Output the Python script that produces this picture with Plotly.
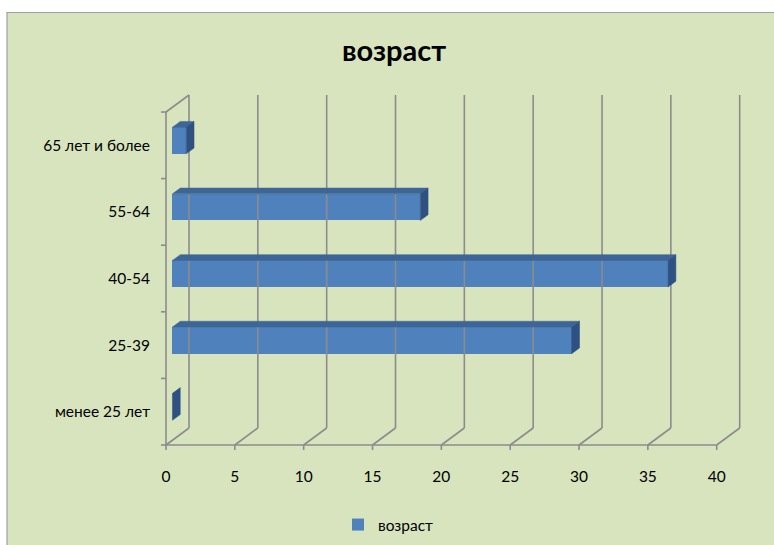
import plotly.graph_objects as go

# ---------------- data ----------------
categories = ["менее 25 лет", "25-39", "40-54", "55-64", "65 лет и более"]
values = [0, 29, 36, 18, 1]
series_name = "возраст"
x_ticks = [0, 5, 10, 15, 20, 25, 30, 35, 40]
title_text = "возраст"

# ---------------- style / layout constants ----------------
W, H = 774, 545
ML, MR, MT, MB = 151, 14, 85, 90
PX_X0, PX_X40 = 166.0, 716.7      # pixel of x=0 and x=40 on front axis
PX_YBOT, PX_YTOP = 445.0, 112.0   # pixel of front floor and top of left wall
SX = (PX_X40 - PX_X0) / 40.0
SY = (PX_YBOT - PX_YTOP) / 5.0
DX = 23.0 / SX                     # depth offset (data units)
DY = 17.0 / SY
T0, T1 = 0.28, 0.62                # bar depth extent (fraction of wall depth)
HALF = 0.2                         # half bar height in category units
GRID = "#8C8C8C"
BG = "#D7E4BD"
FRONT = "#4F81BD"
TOP = "#3D6697"
SIDE = "#2E5182"
FONT = "Lato"

pw = W - ML - MR
ph = H - MT - MB
x_range = [(ML - PX_X0) / SX, (ML + pw - PX_X0) / SX]
y_bot_val = -0.5 - ((H - MB) - PX_YBOT) / SY
y_range = [y_bot_val, y_bot_val + ph / SY]

xmax = x_ticks[-1]
n = len(categories)
ylo, yhi = -0.5, n - 0.5

fig = go.Figure()

def seg_trace(xs, ys, width=1.6):
    return go.Scatter(x=xs, y=ys, mode="lines", line=dict(color=GRID, width=width),
                      hoverinfo="skip", showlegend=False)

# back wall gridlines
gx, gy = [], []
for t in x_ticks:
    gx += [t + DX, t + DX, None]
    gy += [ylo + DY, yhi + DY, None]
fig.add_trace(seg_trace(gx, gy))

# floor diagonals and front floor line
fx, fy = [], []
for t in x_ticks:
    fx += [t, t + DX, None]
    fy += [ylo, ylo + DY, None]
fx += [0, xmax, None]
fy += [ylo, ylo, None]
# ticks under the front axis
tick_len_y = 5.0 / SY
for t in x_ticks:
    fx += [t, t, None]
    fy += [ylo, ylo - tick_len_y, None]
fig.add_trace(seg_trace(fx, fy))

# left wall: front vertical, top diagonal, ticks
lx = [0, 0, None, 0, DX, None]
ly = [ylo, yhi, None, yhi, yhi + DY, None]
tick_len_x = 5.0 / SX
for k in range(n + 1):
    yb = ylo + k
    lx += [-tick_len_x, 0, None]
    ly += [yb, yb, None]
fig.add_trace(seg_trace(lx, ly))

# bars: front face through bar trace
ypos = list(range(n))
fig.add_trace(go.Bar(
    orientation="h",
    x=values,
    y=[i + T0 * DY for i in ypos],
    base=T0 * DX,
    width=2 * HALF,
    marker=dict(color=FRONT, line=dict(width=0)),
    name=series_name,
    showlegend=True,
    hoverinfo="skip",
))

# top and side faces computed from values
def P(x, y, t):
    return x + t * DX, y + t * DY

tx, ty, sx, sy = [], [], [], []
for i, v in zip(ypos, values):
    pts = [P(0, i + HALF, T0), P(v, i + HALF, T0), P(v, i + HALF, T1), P(0, i + HALF, T1), P(0, i + HALF, T0)]
    tx += [p[0] for p in pts] + [None]
    ty += [p[1] for p in pts] + [None]
    pts = [P(v, i - HALF, T0), P(v, i + HALF, T0), P(v, i + HALF, T1), P(v, i - HALF, T1), P(v, i - HALF, T0)]
    sx += [p[0] for p in pts] + [None]
    sy += [p[1] for p in pts] + [None]
fig.add_trace(go.Scatter(x=tx, y=ty, mode="lines", fill="toself", fillcolor=TOP,
                         line=dict(color=TOP, width=0.5), hoverinfo="skip", showlegend=False))
fig.add_trace(go.Scatter(x=sx, y=sy, mode="lines", fill="toself", fillcolor=SIDE,
                         line=dict(color=SIDE, width=0.5), hoverinfo="skip", showlegend=False))

# chart-area frame (pixel -> paper)
def xp(px):
    return (px - ML) / pw

def yp(py):
    return ((H - MB) - py) / ph

fig.add_shape(type="rect", xref="paper", yref="paper",
              x0=xp(7), x1=xp(W + 10), y0=yp(12.5), y1=yp(H + 10),
              fillcolor=BG, line=dict(color="#A0A0A0", width=1.2), layer="below")

fig.update_layout(
    width=W, height=H,
    margin=dict(l=ML, r=MR, t=MT, b=MB, autoexpand=False),
    paper_bgcolor="white",
    plot_bgcolor="rgba(0,0,0,0)",
    font=dict(family=FONT, size=15.5, color="#000000"),
    title=dict(text="<b>" + title_text + "</b>", x=394 / W, xanchor="center",
               y=1 - 51 / H, yanchor="middle",
               font=dict(family=FONT, size=29, color="#000000")),
    xaxis=dict(range=x_range, showgrid=False, zeroline=False, showline=False,
               tickvals=x_ticks, ticktext=[str(t) for t in x_ticks], ticks="",
               ticklabelstandoff=10, tickfont=dict(size=15.5), fixedrange=True,
               automargin=False),
    yaxis=dict(range=y_range, showgrid=False, zeroline=False, showline=False,
               tickvals=ypos, ticktext=categories, ticks="",
               ticklabelstandoff=0, tickfont=dict(size=15.5), fixedrange=True,
               automargin=False),
    legend=dict(orientation="h", x=xp(338), xanchor="left", y=yp(525), yanchor="middle",
                bgcolor="rgba(0,0,0,0)", font=dict(size=15.5), itemwidth=30),
    bargap=0,
)

fig.write_html("out.html", config={"displayModeBar": False},
               post_script="document.body.style.margin='0px';document.body.style.overflow='hidden';")
